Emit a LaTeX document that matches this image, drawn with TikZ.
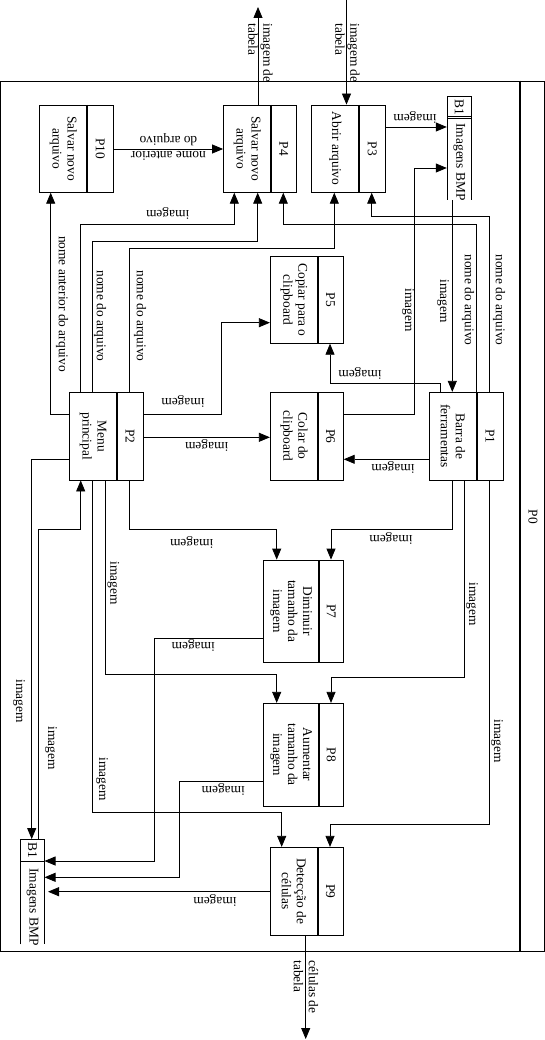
\documentclass[tikz,border=0pt]{standalone}
\usepackage{fontspec}
\setmainfont{Liberation Serif}
\usetikzlibrary{arrows.meta,calc}
\newcommand\dfdsize{\fontsize{13.4}{15}\selectfont}
\tikzset{
  edge/.style={line width=0.8pt,-{Triangle[length=11pt,width=9pt]}},
  pbox/.style={draw,line width=0.8pt,inner sep=0pt},
  pdiv/.style={line width=2pt},
  ptext/.style={rotate=-90,align=center,font=\dfdsize,inner sep=0pt},
  vlab/.style={rotate=-90,font=\dfdsize,inner sep=1pt},
  ulab/.style={rotate=180,font=\dfdsize,inner sep=1pt},
}
% process: name, left, divider, right, top, bottom, description, id
\newcommand\proc[8]{%
  \node[pbox,minimum width={(#4)-(#2)},minimum height={(#6)-(#5)}] (#1)
    at ({((#2)+(#4))/2},{((#5)+(#6))/2}) {};
  \draw[pdiv] (#3,#5) -- (#3,#6);
  \node[ptext] at ({((#2)+(#3))/2},{((#5)+(#6))/2}) {#7};
  \node[ptext] at ({((#3)+(#4))/2},{((#5)+(#6))/2}) {#8};
}
\begin{document}
\begin{tikzpicture}[x=1pt,y=-1pt]
\useasboundingbox (0,0) rectangle (545,1040);

% system boundary P0
\node[pbox,minimum width=544,minimum height=870] (p0) at (272.5,516) {};
\draw[line width=2.2pt] (520,0 |- p0.north) -- (520,0 |- p0.south);
\node[vlab] at (533,517) {P0};

% processes
\proc{p10}{39.3}{87.3}{113.3}{105}{192.3}{Salvar novo\\arquivo}{P10}
\proc{p4}{223.5}{271}{296.7}{105}{192.3}{Salvar novo\\arquivo}{P4}
\proc{p3}{311.7}{359}{385.5}{105}{192.3}{Abrir arquivo}{P3}
\proc{p5}{270.3}{317.7}{343.3}{256.7}{343.3}{Copiar para o\\clipboard}{P5}
\proc{p2}{69.3}{117}{143.3}{392.3}{480}{Menu\\principal}{P2}
\proc{p6}{270.3}{317.7}{343.3}{392.3}{480}{Colar do\\clipboard}{P6}
\proc{p1}{429.3}{476.7}{503.3}{392.3}{480}{Barra de\\ferramentas}{P1}
\proc{p7}{263.3}{319}{343.3}{560}{662.3}{Diminuir\\tamanho da\\imagem}{P7}
\proc{p8}{263.3}{319}{343.3}{703.3}{806}{Aumentar\\tamanho da\\imagem}{P8}
\proc{p9}{270.3}{317.7}{343.3}{847.3}{935}{Detecção de\\células}{P9}

% data store B1 (top)
\node[inner sep=0,minimum width=24.7,minimum height=104] (bt) at (459.35,148) {};
\draw[line width=0.8pt] (447,200) -- (447,96) -- (471.7,96) -- (471.7,200);
\draw[line width=0.8pt] (447,116.7) -- (471.7,116.7);
\draw[line width=0.8pt] (447,118.9) -- (471.7,118.9);
\node[vlab] at (459.35,107) {B1};
\node[vlab] at (459.35,162) {Imagens BMP};

% data store B1 (bottom)
\node[inner sep=0,minimum width=23.6,minimum height=105] (bb) at (32.5,891.8) {};
\draw[line width=0.8pt] (20.7,944.3) -- (20.7,839.3) -- (44.3,839.3) -- (44.3,944.3);
\draw[line width=0.8pt] (20.7,861) -- (44.3,861);
\node[vlab] at (32.5,850) {B1};
\node[vlab] at (32.5,907) {Imagens BMP};

% external flows
\coordinate (inTab) at (346.5,0);
\draw[edge] (inTab) -- (inTab |- p3.north);
\node[vlab,align=left] at (347.5,53) {imagem de\\tabela};
\coordinate (outTab) at (258,7);
\draw[edge] (outTab |- p4.north) -- (outTab);
\node[vlab,align=left] at (260.5,53) {imagem de\\tabela};
\coordinate (outCells) at (305.7,1039);
\draw[edge] (305.7,0 |- p9.south) -- (outCells);
\node[vlab,align=left] at (306,987) {células de\\tabela};

% flows among the top row
\draw[edge] (p10.east |- 0,149) -- (p4.west |- 0,149);
\node[ulab,align=center] at (168.4,147) {nome anterior\\do arquivo};
\draw[edge] (p3.east |- 0,127) -- (bt.west |- 0,127);
\node[ulab] at (415,117) {imagem};
\draw[edge] (p6.east |- 0,414.3) -| (414.3,168) -- (bt.west |- 0,168);
\node[vlab] at (408,310) {imagem};
\draw[edge] (452.3,0 |- bt.south) -- (452.3,0 |- p1.north);
\node[vlab] at (443,301) {imagem};

% flows from P1 upwards
\draw[edge] (489.3,0 |- p1.north) |- (371.7,216) -- (371.7,0 |- p3.south);
\node[vlab] at (499,300) {nome do arquivo};
\draw[edge] (476.7,0 |- p1.north) |- (283.3,224.3) -- (283.3,0 |- p4.south);
\node[vlab] at (468,300) {nome do arquivo};
\draw[edge] (440,0 |- p1.north) |- (330,383.3) -- (330,0 |- p5.south);
\node[ulab] at (360,373) {imagem};
\draw[edge] (p1.west |- 0,459.3) -- (p6.east |- 0,459.3);
\node[ulab] at (393,467) {imagem};

% flows from P2 upwards and sideways
\draw[edge] (80.7,0 |- p2.north) |- (234.3,224.3) -- (234.3,0 |- p4.south);
\node[ulab] at (167.7,213.3) {imagem};
\draw[edge] (92.3,0 |- p2.north) |- (257.7,241.7) -- (257.7,0 |- p4.south);
\node[vlab] at (100,316) {nome do arquivo};
\draw[edge] (129.3,0 |- p2.north) |- (334.3,248.3) -- (334.3,0 |- p3.south);
\node[vlab] at (140,316) {nome do arquivo};
\draw[edge] (p2.west |- 0,414) -| (50.7,0 |- p10.south);
\node[vlab] at (62,304) {nome anterior do arquivo};
\draw[edge] (p2.east |- 0,414.3) -| (221.7,322.7) -- (p5.west |- 0,322.7);
\node[ulab] at (183,401) {imagem};
\draw[edge] (p2.east |- 0,437.3) -- (p6.west |- 0,437.3);
\node[ulab] at (206.7,445.7) {imagem};

% flows between P2 and the store B1
\draw[edge] (p2.west |- 0,459.3) -| (31.7,0 |- bb.north);
\node[vlab] at (19,701) {imagem};
\draw[edge] (38.3,0 |- bb.north) |- (80.7,529.3) -- (80.7,0 |- p2.south);
\node[vlab] at (51,748) {imagem};

% flows into P7, P8, P9
\draw[edge] (129.3,0 |- p2.south) |- (276.7,529.3) -- (276.7,0 |- p7.north);
\node[ulab] at (191.7,542.3) {imagem};
\draw[edge] (452.3,0 |- p1.south) |- (331,529.3) -- (331,0 |- p7.north);
\node[ulab] at (391,538) {imagem};
\draw[edge] (105,0 |- p2.south) |- (276.7,674) -- (276.7,0 |- p8.north);
\node[vlab] at (113.3,583) {imagem};
\draw[edge] (464.3,0 |- p1.south) |- (331,677.3) -- (331,0 |- p8.north);
\node[vlab] at (472,604) {imagem};
\draw[edge] (92.3,0 |- p2.south) |- (281.7,812.7) -- (281.7,0 |- p9.north);
\node[vlab] at (102,779) {imagem};
\draw[edge] (489.3,0 |- p1.south) |- (330,824) -- (330,0 |- p9.north);
\node[vlab] at (497,741) {imagem};

% results back into the store B1
\draw[edge] (p7.west |- 0,638.3) -| (154.3,861) -- (bb.east |- 0,861);
\node[ulab] at (193.3,645.7) {imagem};
\draw[edge] (p8.west |- 0,781.7) -| (179.3,877.3) -- (bb.east |- 0,877.3);
\node[ulab] at (223.3,789.3) {imagem};
\draw[edge,shorten >=3.5pt] (p9.west |- 0,891.7) -- (bb.east |- 0,891.7);
\node[ulab] at (215,900) {imagem};
\end{tikzpicture}
\end{document}
